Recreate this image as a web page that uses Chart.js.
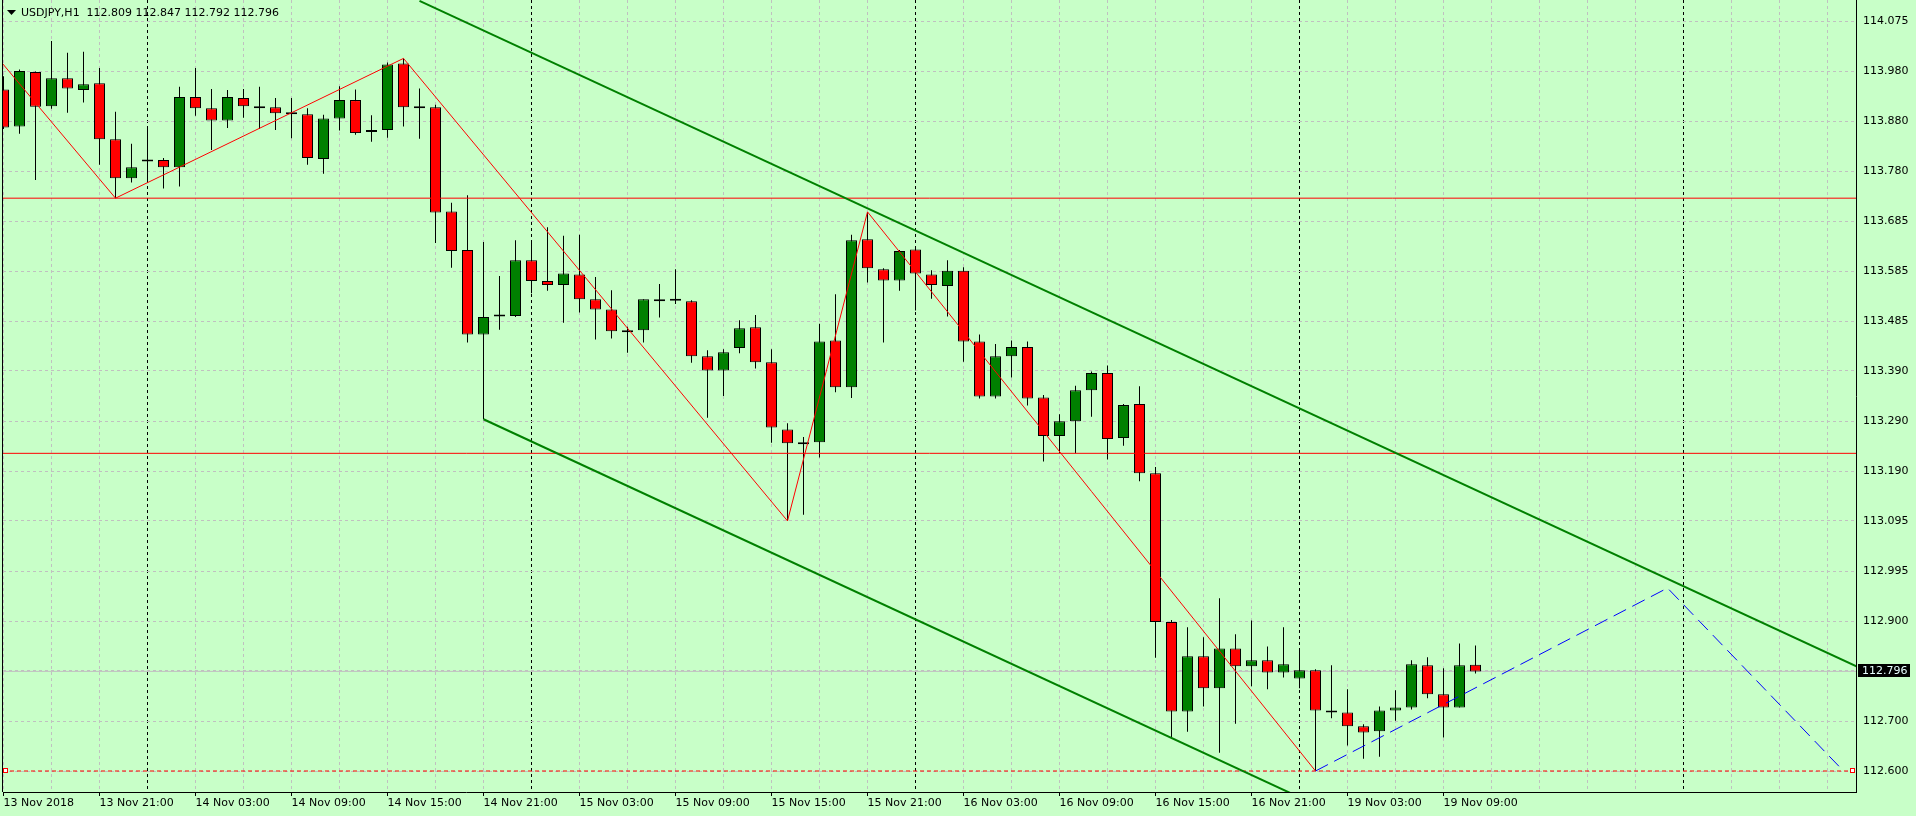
<!DOCTYPE html>
<html lang="en">
<head>
<meta charset="UTF-8">
<title>USDJPY,H1</title>
<script src="https://cdn.jsdelivr.net/npm/chart.js"></script>
<style>
    html, body { margin: 0; padding: 0; background: #c8ffc8; overflow: hidden; }
    #chart { display: block; }
</style>
</head>
<body>
<canvas id="chart" width="1916" height="816"></canvas>
<script>
// hourly candles, index 0 = 13 Nov 2018 15:00 (weekend gap after index 80)
const symbolName = 'USDJPY,H1';
const opens = [113.941, 113.868, 113.975, 113.908, 113.963, 113.940, 113.953, 113.843, 113.766, 113.801,
    113.802, 113.788, 113.926, 113.904, 113.880, 113.924, 113.906, 113.906, 113.894, 113.892,
    113.804, 113.884, 113.920, 113.857, 113.861, 113.992, 113.906, 113.906, 113.701, 113.625,
    113.459, 113.496, 113.495, 113.605, 113.564, 113.556, 113.577, 113.528, 113.508, 113.463,
    113.467, 113.528, 113.527, 113.524, 113.416, 113.388, 113.432, 113.473, 113.404, 113.272,
    113.243, 113.247, 113.447, 113.355, 113.646, 113.587, 113.565, 113.626, 113.577, 113.554,
    113.584, 113.445, 113.337, 113.416, 113.434, 113.335, 113.259, 113.288, 113.349, 113.383,
    113.255, 113.322, 113.186, 112.893, 112.717, 112.826, 112.763, 112.841, 112.806, 112.818,
    112.794, 112.782, 112.798, 112.719, 112.715, 112.688, 112.678, 112.719, 112.725, 112.808,
    112.751, 112.725, 112.809];
const highs = [113.967, 113.980, 113.976, 114.036, 114.013, 114.015, 113.983, 113.897, 113.834, 113.865,
    113.806, 113.946, 113.983, 113.942, 113.940, 113.942, 113.946, 113.924, 113.924, 113.904,
    113.891, 113.947, 113.941, 113.890, 113.994, 114.002, 113.943, 113.911, 113.718, 113.733,
    113.641, 113.574, 113.644, 113.641, 113.670, 113.653, 113.655, 113.572, 113.546, 113.474,
    113.528, 113.558, 113.587, 113.526, 113.428, 113.430, 113.487, 113.497, 113.430, 113.284,
    113.257, 113.480, 113.538, 113.655, 113.700, 113.589, 113.625, 113.629, 113.585, 113.605,
    113.591, 113.459, 113.440, 113.447, 113.445, 113.340, 113.302, 113.358, 113.386, 113.398,
    113.322, 113.357, 113.198, 112.897, 112.883, 112.863, 112.940, 112.869, 112.896, 112.845,
    112.883, 112.839, 112.800, 112.808, 112.761, 112.692, 112.727, 112.759, 112.818, 112.824,
    112.802, 112.851, 112.847];
const lows = [113.863, 113.854, 113.763, 113.903, 113.895, 113.915, 113.793, 113.727, 113.758, 113.760,
    113.746, 113.750, 113.889, 113.822, 113.865, 113.885, 113.863, 113.861, 113.845, 113.793,
    113.775, 113.860, 113.852, 113.838, 113.846, 113.868, 113.844, 113.639, 113.590, 113.443,
    113.292, 113.468, 113.493, 113.540, 113.545, 113.482, 113.502, 113.449, 113.451, 113.423,
    113.443, 113.492, 113.519, 113.403, 113.295, 113.338, 113.422, 113.392, 113.246, 113.092,
    113.104, 113.217, 113.345, 113.334, 113.561, 113.443, 113.545, 113.506, 113.529, 113.494,
    113.405, 113.333, 113.333, 113.374, 113.319, 113.209, 113.225, 113.225, 113.297, 113.213,
    113.240, 113.170, 112.823, 112.664, 112.677, 112.727, 112.636, 112.693, 112.767, 112.761,
    112.784, 112.763, 112.600, 112.704, 112.650, 112.624, 112.628, 112.699, 112.721, 112.743,
    112.666, 112.725, 112.792];
const closes = [113.866, 113.977, 113.907, 113.963, 113.943, 113.951, 113.843, 113.766, 113.788, 113.801,
    113.788, 113.926, 113.904, 113.880, 113.926, 113.908, 113.906, 113.894, 113.894, 113.806,
    113.884, 113.920, 113.855, 113.861, 113.990, 113.906, 113.906, 113.699, 113.623, 113.459,
    113.493, 113.496, 113.605, 113.564, 113.556, 113.579, 113.528, 113.508, 113.465, 113.467,
    113.528, 113.524, 113.527, 113.416, 113.388, 113.424, 113.471, 113.404, 113.276, 113.245,
    113.247, 113.445, 113.355, 113.644, 113.589, 113.565, 113.623, 113.579, 113.556, 113.584,
    113.445, 113.337, 113.416, 113.434, 113.333, 113.259, 113.288, 113.349, 113.383, 113.253,
    113.320, 113.186, 112.893, 112.717, 112.826, 112.763, 112.841, 112.806, 112.818, 112.794,
    112.810, 112.798, 112.719, 112.715, 112.688, 112.676, 112.719, 112.725, 112.810, 112.751,
    112.725, 112.808, 112.796];

// time axis: label every 6 bars, grid every 3 bars, day separators
const xTickLabels = ['13 Nov 2018', '13 Nov 21:00', '14 Nov 03:00', '14 Nov 09:00', '14 Nov 15:00',
    '14 Nov 21:00', '15 Nov 03:00', '15 Nov 09:00', '15 Nov 15:00', '15 Nov 21:00', '16 Nov 03:00',
    '16 Nov 09:00', '16 Nov 15:00', '16 Nov 21:00', '19 Nov 03:00', '19 Nov 09:00'];
const daySeparators = [9, 33, 57, 81, 105];

// price axis
const yTickValues = [112.600, 112.698, 112.797, 112.895, 112.993, 113.092, 113.190, 113.288,
    113.387, 113.485, 113.583, 113.682, 113.780, 113.878, 113.977, 114.075];
const yTickLabels = ['112.600', '112.700', '', '112.900', '112.995', '113.095', '113.190', '113.290',
    '113.390', '113.485', '113.585', '113.685', '113.780', '113.880', '113.980', '114.075'];

// drawn objects
const zigzagIdx = [-1, 7, 25, 49, 54, 82];
const zigzagPrice = [114.027, 113.727, 114.002, 113.092, 113.700, 112.600];
const projIdx = [82, 104, 115];
const projPrice = [112.600, 112.960, 112.600];
const channelUpperIdx = [26, 116];
const channelUpperPrice = [114.115, 112.803];
const channelLowerIdx = [30, 116];
const channelLowerPrice = [113.292, 112.038];
const redLevels = [113.727, 113.225];
const dashedLevel = 112.600;

const xMin = -0.03125, xMax = 115.78125;
const yMin = 112.5587, yMax = 114.1169;
const gridGray = 'rgb(192,192,192)';
const font = { family: 'DejaVu Sans', size: 11 };

const last = closes.length - 1;
const pts = (xs, ys) => xs.map((v, i) => ({ x: v, y: ys[i] }));

function lineSet(data, color, width, dash, order) {
    return {
        type: 'line', data: data, borderColor: color, borderWidth: width,
        borderDash: dash, pointRadius: 0, tension: 0, fill: false, order: order, clip: 0
    };
}

const wicks = highs.map((h, i) => ({ x: i, y: [lows[i], h] }));
const bodies = opens.map((o, i) => {
    const c = closes[i];
    if (o === c) return { x: i, y: [o - 0.002, o + 0.002] };
    return { x: i, y: [Math.min(o, c), Math.max(o, c)] };
});
const bodyColors = opens.map((o, i) => closes[i] > o ? '#008000' : (closes[i] < o ? '#ff0000' : '#000000'));

const datasets = [
    lineSet(pts([xMin, xMax], [closes[last], closes[last]]), 'rgb(192,192,192)', 1, [], 5),
    {
        type: 'bar', data: wicks, backgroundColor: '#000', barThickness: 1,
        grouped: false, borderWidth: 0, inflateAmount: 0, order: 4
    },
    {
        type: 'bar', data: bodies, backgroundColor: bodyColors, borderColor: '#000',
        borderWidth: 1, borderSkipped: false, barThickness: 11, grouped: false, inflateAmount: 0, order: 3
    },
    lineSet(pts([xMin, xMax], [redLevels[0], redLevels[0]]), '#ff0000', 1, [], 2),
    lineSet(pts([xMin, xMax], [redLevels[1], redLevels[1]]), '#ff0000', 1, [], 2),
    lineSet(pts([xMin, xMax], [dashedLevel, dashedLevel]), '#ff0000', 1, [4, 3], 2),
    lineSet(pts(channelUpperIdx, channelUpperPrice), '#008000', 2, [], 1),
    lineSet(pts(channelLowerIdx, channelLowerPrice), '#008000', 2, [], 1),
    lineSet(pts(zigzagIdx, zigzagPrice), '#ff0000', 1, [], 0),
    lineSet(pts(projIdx, projPrice), '#0000ff', 1, [14, 7], 0)
];

const decor = {
    id: 'decor',
    afterDraw(chart) {
        const { ctx, chartArea: a, scales: { x, y } } = chart;
        ctx.save();
        ctx.strokeStyle = '#000';
        ctx.lineWidth = 1;
        ctx.beginPath();
        ctx.moveTo(a.left - 0.5, 0);
        ctx.lineTo(a.left - 0.5, a.bottom);
        xTickLabels.forEach((t, k) => {
            const px = Math.floor(x.getPixelForValue(k * 6)) + 0.5;
            ctx.moveTo(px, a.bottom);
            ctx.lineTo(px, a.bottom + 4);
        });
        ctx.stroke();

        // little markers on the 112.600 line
        const ly = Math.round(y.getPixelForValue(dashedLevel));
        ctx.strokeStyle = '#ff0000';
        ctx.fillStyle = '#ffffff';
        ctx.fillRect(a.left + 0.5, ly - 2, 4, 4);
        ctx.strokeRect(a.left + 0.5, ly - 2.5, 4, 4);
        ctx.fillRect(a.right - 5.5, ly - 2, 4, 4);
        ctx.strokeRect(a.right - 5.5, ly - 2.5, 4, 4);

        // symbol header
        ctx.fillStyle = '#000';
        ctx.beginPath();
        ctx.moveTo(7, 10); ctx.lineTo(16, 10); ctx.lineTo(11.5, 15); ctx.closePath();
        ctx.fill();
        ctx.font = '11px "DejaVu Sans"';
        ctx.textBaseline = 'middle';
        ctx.textAlign = 'left';
        const f = v => v.toFixed(3);
        ctx.fillText(symbolName + '  ' + [opens[last], highs[last], lows[last], closes[last]].map(f).join(' '), 21, 13);

        // current price box
        const py = Math.round(y.getPixelForValue(closes[last]));
        ctx.fillStyle = '#000';
        ctx.fillRect(a.right + 2, py - 7, 52, 13);
        ctx.fillStyle = '#e8ffff';
        ctx.fillText(f(closes[last]), a.right + 6, py);
        ctx.restore();
    }
};

new Chart(document.getElementById('chart'), {
    type: 'bar',
    data: { datasets: datasets },
    options: {
        responsive: false,
        animation: false,
        devicePixelRatio: 1,
        layout: { padding: { left: 3, top: 0, right: 0, bottom: 0 } },
        plugins: { legend: { display: false }, tooltip: { enabled: false }, title: { display: false } },
        scales: {
            x: {
                type: 'linear', min: xMin, max: xMax, offset: false, bounds: 'data',
                afterBuildTicks: s => {
                    const t = [];
                    for (let v = 0; v <= xMax; v += 3) t.push({ value: v });
                    s.ticks = t;
                },
                afterFit: s => { s.height = 24; s.paddingLeft = 0; s.paddingRight = 0; },
                grid: {
                    offset: false, drawTicks: false, lineWidth: 1,
                    color: c => (c.tick && daySeparators.includes(c.tick.value)) ? '#000' : gridGray
                },
                border: { display: true, color: '#000', width: 1, dash: [3, 3] },
                ticks: {
                    align: 'start', padding: 5, maxRotation: 0, autoSkip: false, color: '#000', font: font,
                    callback: v => v % 6 === 0 ? (xTickLabels[v / 6] || '') : ''
                }
            },
            y: {
                type: 'linear', position: 'right', min: yMin, max: yMax, beginAtZero: false, bounds: 'data',
                afterBuildTicks: s => { s.ticks = yTickValues.map(v => ({ value: v })); },
                afterFit: s => { s.width = 60; s.paddingTop = 0; s.paddingBottom = 0; },
                grid: { drawTicks: false, color: gridGray, lineWidth: 1 },
                border: { display: true, color: '#000', width: 1, dash: [3, 3] },
                ticks: {
                    padding: 7, color: '#000', font: font,
                    callback: (v, idx) => yTickLabels[idx]
                }
            }
        }
    },
    plugins: [decor]
});
</script>
</body>
</html>
